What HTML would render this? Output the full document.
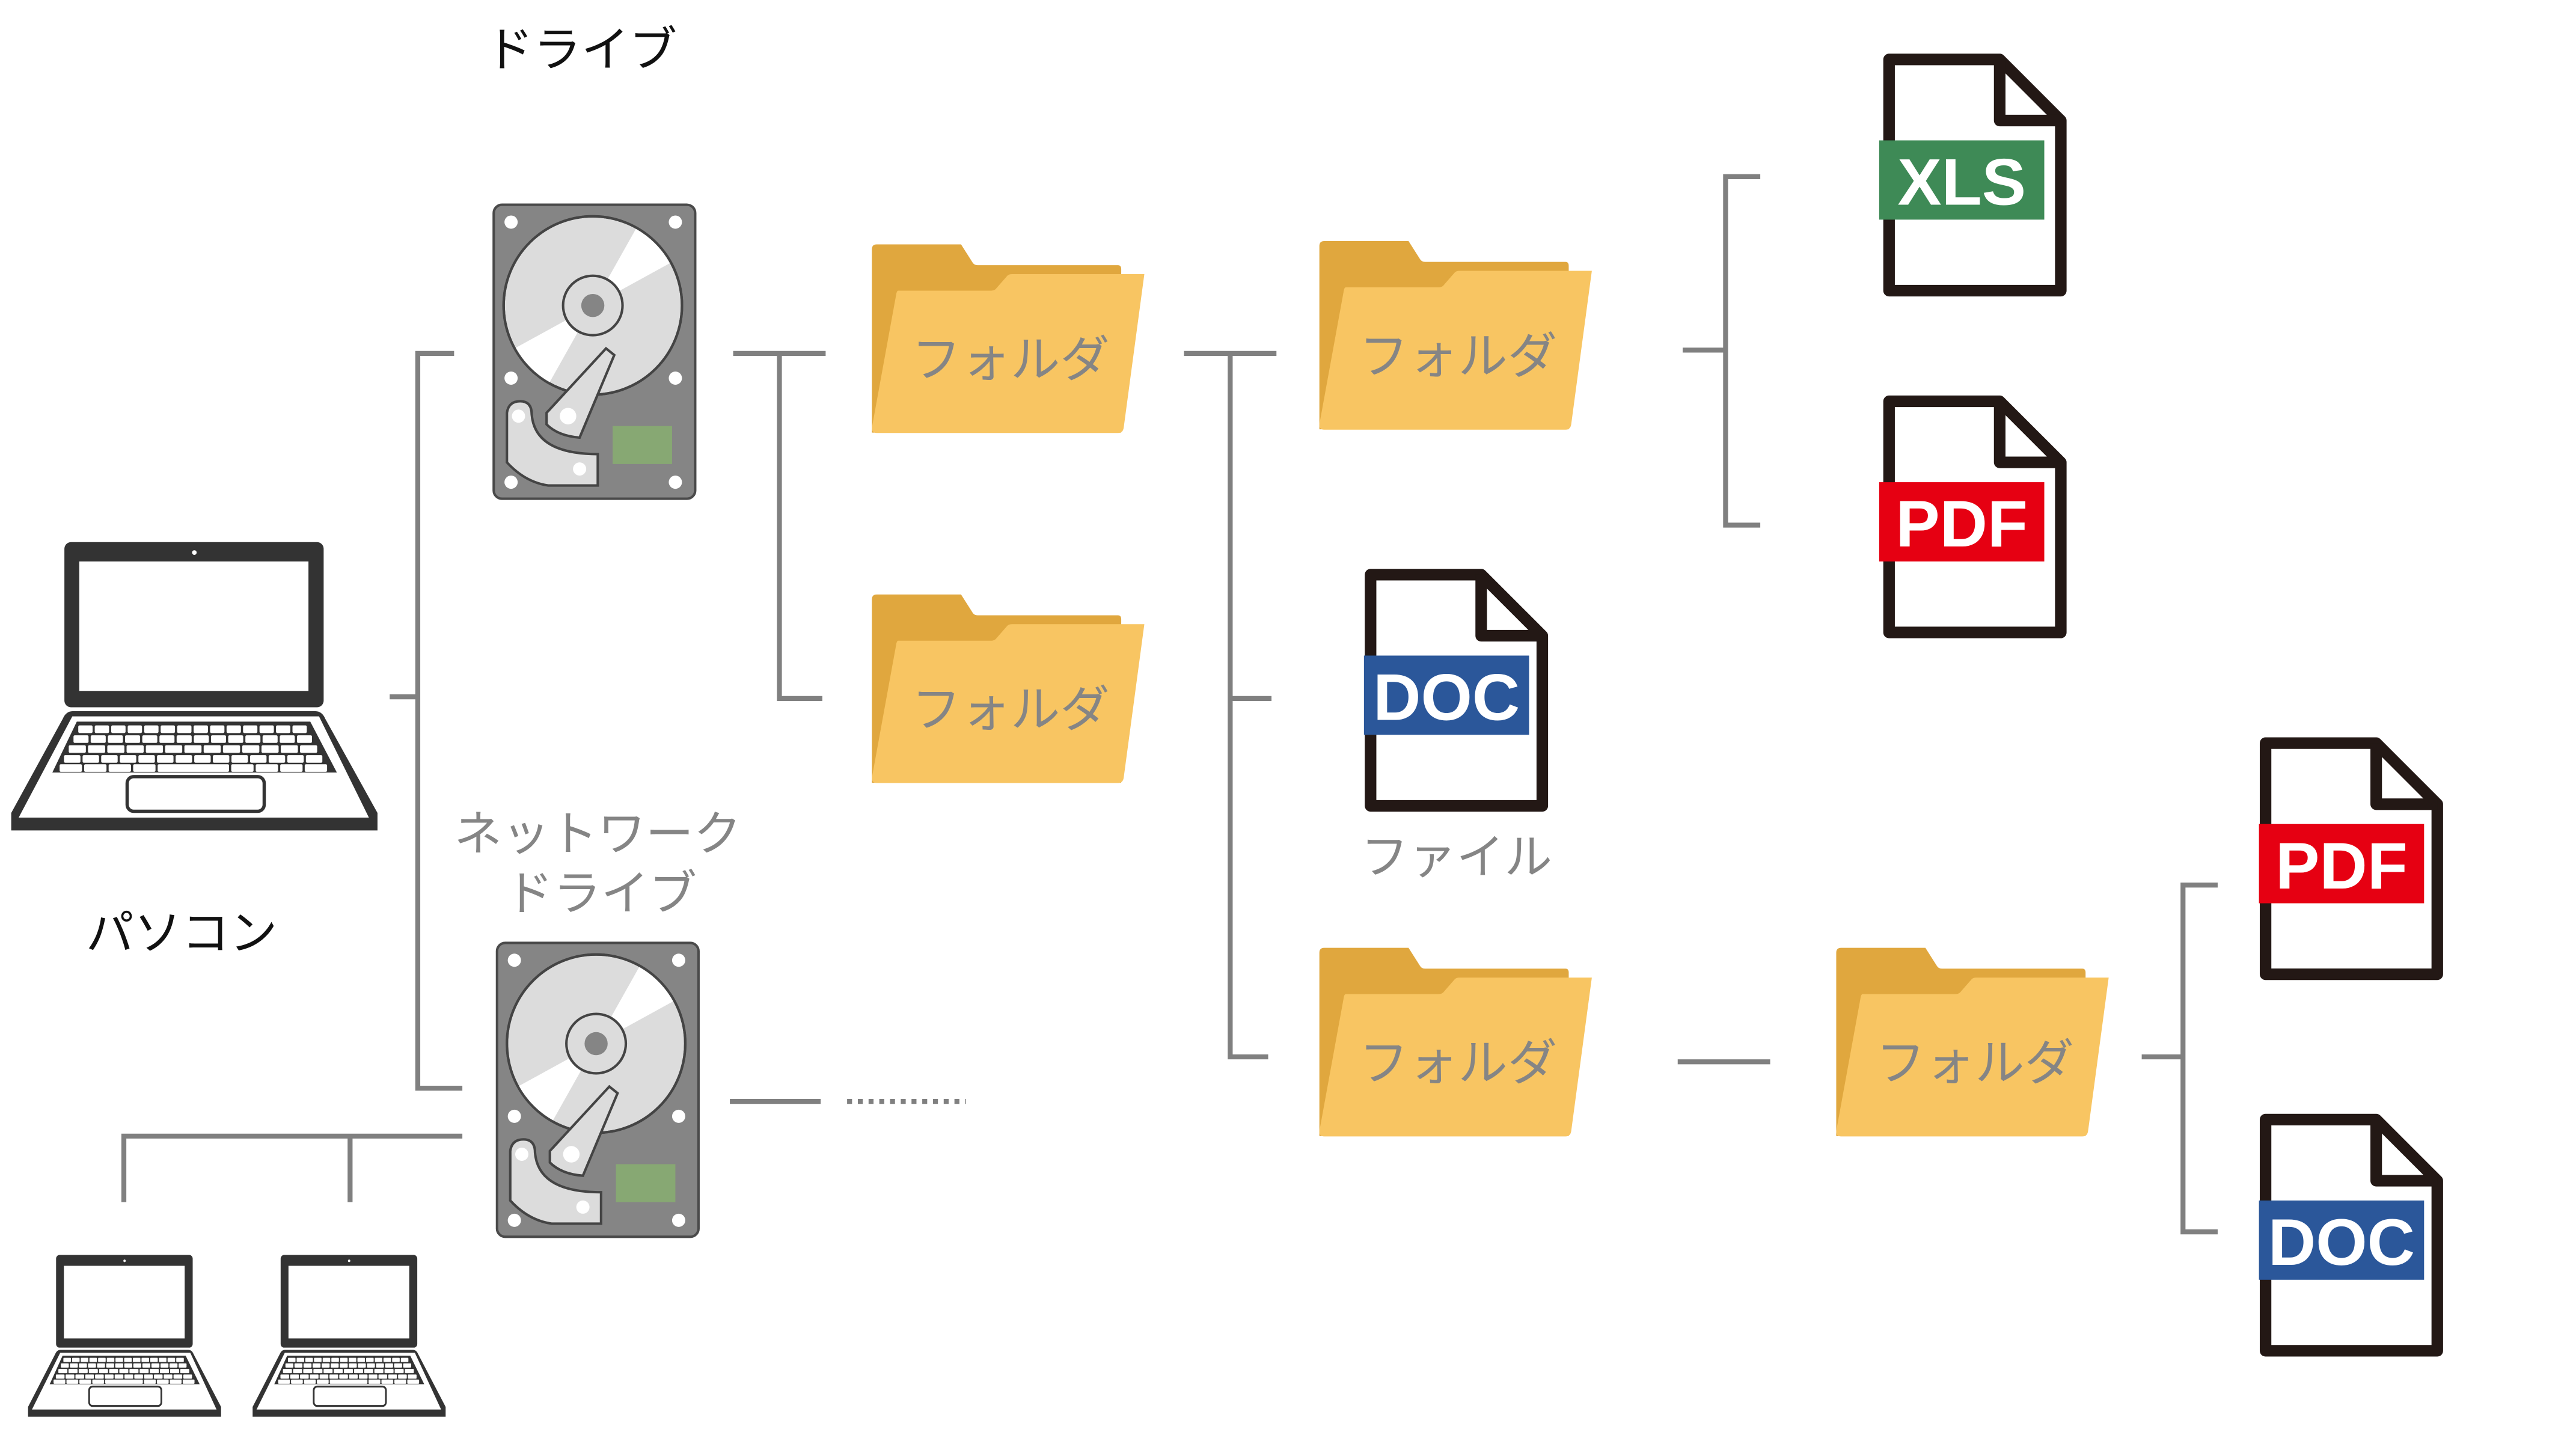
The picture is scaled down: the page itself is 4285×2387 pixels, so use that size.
<!DOCTYPE html>
<html><head><meta charset="utf-8">
<style>
html,body{margin:0;padding:0;background:#fff;}
svg{display:block;}
.t{font-family:"Liberation Sans","Noto Sans CJK JP",sans-serif;}
</style></head>
<body>
<svg id="s" width="4285" height="2387" viewBox="0 0 1560 869" xmlns="http://www.w3.org/2000/svg">
<defs>
  <clipPath id="diskclip"><circle cx="61" cy="62" r="54"/></clipPath>
  <g id="laptop">
    <rect x="39" y="8" width="157" height="100" rx="4" fill="#333"/>
    <rect x="48" y="19.7" width="138.8" height="78.4" fill="#fff"/>
    <circle cx="117.7" cy="14.3" r="1.4" fill="#fff"/>
    <path d="M44,110.4 H191 Q195,110.4 197,115 L228.6,172 V182.6 H6.8 V172 L38,115 Q40,110.4 44,110.4 Z" fill="#333"/>
    <path d="M43.8,113.5 H193.2 L223.4,174.8 H11.3 Z" fill="#fff"/>
    <path d="M46.5,116.7 H187.9 L204,147.5 H31.7 Z" fill="#333"/>
    <g id="keys" fill="#fff"></g>
    <rect x="77" y="150" width="83" height="21" rx="4" fill="#fff" stroke="#333" stroke-width="2"/>
  </g>
  <g id="hdd">
    <rect x="1" y="1" width="122" height="178" rx="5" fill="#858585" stroke="#4a4a4a" stroke-width="1.5"/>
    <circle cx="61" cy="62" r="54" fill="#dcdcdc" stroke="#444" stroke-width="1.5"/>
    <g clip-path="url(#diskclip)" fill="#fff">
      <polygon points="61,62 88,14 112,34"/>
      <polygon points="61,62 10,90 34,110"/>
    </g>
    <circle cx="61" cy="62" r="54" fill="none" stroke="#444" stroke-width="1.5"/>
    <circle cx="61" cy="62" r="18" fill="#dcdcdc" stroke="#444" stroke-width="1.5"/>
    <circle cx="61" cy="62" r="7" fill="#858585"/>
    <g fill="#fff">
      <circle cx="11.5" cy="11.5" r="4"/><circle cx="111" cy="11.5" r="4"/>
      <circle cx="11.5" cy="106" r="4"/><circle cx="111" cy="106" r="4"/>
      <circle cx="11.5" cy="169" r="4"/><circle cx="111" cy="169" r="4"/>
    </g>
    <path d="M9,127 Q10,120 17,120 Q24,120 24,128 Q26,152 64,152 V171 H34 Q20,169 9,157 Z" fill="#dcdcdc" stroke="#444" stroke-width="1.5"/>
    <path d="M69,88 L74,92 L53,142 Q40,141 33,134 V127 Z" fill="#dcdcdc" stroke="#444" stroke-width="1.5"/>
    <circle cx="16" cy="129" r="4" fill="#fff"/>
    <circle cx="46" cy="129" r="5" fill="#fff"/>
    <circle cx="53" cy="161" r="4" fill="#fff"/>
    <rect x="73" y="135" width="36" height="23" fill="#87a873"/>
  </g>
  <g id="folder">
    <path d="M0,3 Q0,0 3,0 H54 L61,11 Q62,12.6 64,12.6 H149 Q151,12.6 151,15 V114 H0 Z" fill="#e0a73e"/>
    <path d="M16,28 H72 Q74,28 75,27 L82,19 Q83,18 85,18 H165 L152.5,111 Q152,114.2 149,114.2 H3 Q0,114.2 0,111 L14.6,31 Q15,28 16,28 Z" fill="#f8c562"/>
  </g>
  <g id="doc">
    <path d="M4,4 H71 L108,41 V144 H4 Z" fill="#fff" stroke="#231815" stroke-width="7" stroke-linejoin="round"/>
    <path d="M71,4 V41 H108" fill="none" stroke="#231815" stroke-width="7" stroke-linejoin="round"/>
  </g>
</defs>

<!-- connector lines -->
<g stroke="#808080" stroke-width="3" fill="none">
  <path d="M236,422 H253 M275,214 H253 V659 H280"/>
  <path d="M444,214 H500 M472,214 V423 H498"/>
  <path d="M717,214 H773 M745,214 V640 H768 M745,423 H770"/>
  <path d="M1019,212 H1045 M1066,107 H1045 V318 H1066"/>
  <path d="M442,667 H497"/>
  <path d="M513,667 H585" stroke-dasharray="3,3.5"/>
  <path d="M1016,643 H1072"/>
  <path d="M1297,640 H1322 M1343,536 H1322 V746 H1343"/>
  <path d="M280,688 H75 V728 M212,688 V728"/>
</g>

<!-- laptops -->
<use href="#laptop" transform="translate(0,320.3)"/>
<use href="#laptop" transform="translate(13.4,755.5) scale(0.527,0.561)"/>
<use href="#laptop" transform="translate(149.4,755.5) scale(0.527,0.561)"/>

<!-- drives -->
<use href="#hdd" transform="translate(298,123)"/>
<use href="#hdd" transform="translate(300,570)"/>

<!-- folders -->
<g transform="translate(528,148)"><use href="#folder"/><text class="t" x="24" y="80" font-size="30" fill="#858585">フォルダ</text></g>
<g transform="translate(528,360)"><use href="#folder"/><text class="t" x="24" y="80" font-size="30" fill="#858585">フォルダ</text></g>
<g transform="translate(799,146)"><use href="#folder"/><text class="t" x="24" y="80" font-size="30" fill="#858585">フォルダ</text></g>
<g transform="translate(799,574)"><use href="#folder"/><text class="t" x="24" y="80" font-size="30" fill="#858585">フォルダ</text></g>
<g transform="translate(1112,574)"><use href="#folder"/><text class="t" x="24" y="80" font-size="30" fill="#858585">フォルダ</text></g>

<!-- documents -->
<g transform="translate(1140,32)"><use href="#doc"/><rect x="-2" y="53" width="100" height="48" fill="#3e8a56"/><text class="t" x="48" y="92" font-size="40" font-weight="bold" fill="#fff" text-anchor="middle">XLS</text></g>
<g transform="translate(1140,239)"><use href="#doc"/><rect x="-2" y="53" width="100" height="48" fill="#e60012"/><text class="t" x="48" y="92" font-size="40" font-weight="bold" fill="#fff" text-anchor="middle">PDF</text></g>
<g transform="translate(826,344)"><use href="#doc"/><rect x="0" y="53" width="100" height="48" fill="#2b579a"/><text class="t" x="50" y="92" font-size="40" font-weight="bold" fill="#fff" text-anchor="middle">DOC</text></g>
<g transform="translate(1368,446)"><use href="#doc"/><rect x="0" y="53" width="100" height="48" fill="#e60012"/><text class="t" x="50" y="92" font-size="40" font-weight="bold" fill="#fff" text-anchor="middle">PDF</text></g>
<g transform="translate(1368,674)"><use href="#doc"/><rect x="0" y="53" width="100" height="48" fill="#2b579a"/><text class="t" x="50" y="92" font-size="40" font-weight="bold" fill="#fff" text-anchor="middle">DOC</text></g>

<!-- labels -->
<text class="t" x="352" y="40" font-size="29" fill="#111" text-anchor="middle">ドライブ</text>
<text class="t" x="110" y="575" font-size="29" fill="#111" text-anchor="middle">パソコン</text>
<text class="t" x="362" y="515" font-size="29" fill="#858585" text-anchor="middle">ネットワーク</text>
<text class="t" x="364" y="551" font-size="29" fill="#858585" text-anchor="middle">ドライブ</text>
<text class="t" x="882" y="529" font-size="29" fill="#858585" text-anchor="middle">ファイル</text>
</svg>
<script>
var keys=document.getElementById('keys');
var rowsY=[119,125,131,137,142.5];
var counts=[14,14,13,14,11];
for(var r=0;r<5;r++){
  var y=rowsY[r];
  var t=(y-116.7)/(147.5-116.7);
  var xl=46.5+(31.7-46.5)*t+2, xr=187.9+(204-187.9)*t-2;
  var n=counts[r], w=(xr-xl)/n;
  for(var i=0;i<n;i++){
    var k=document.createElementNS('http://www.w3.org/2000/svg','rect');
    var ww=w-1.3;
    if(r==4&&i==4){ww=w*3-1.3;}
    if(r==4&&(i==5||i==6))continue;
    k.setAttribute('x',(xl+i*w).toFixed(2));
    k.setAttribute('y',y);
    k.setAttribute('width',ww.toFixed(2));
    k.setAttribute('height',4.6);
    k.setAttribute('rx',0.8);
    
    
    keys.appendChild(k);
  }
}
</script>
</body></html>
